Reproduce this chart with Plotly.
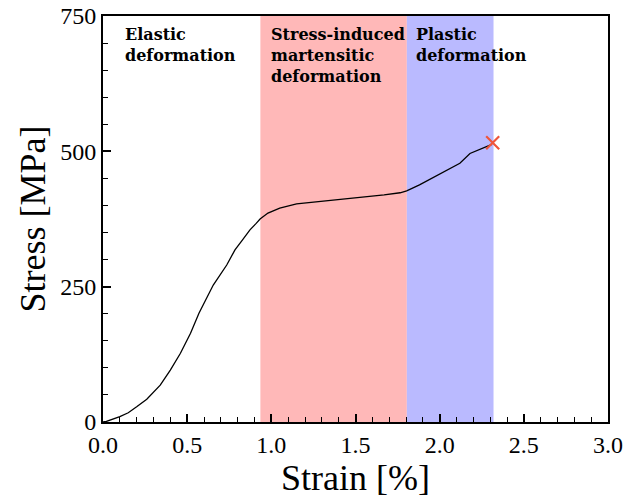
import plotly.graph_objects as go

strain = [0, 0.02, 0.1, 0.15, 0.2, 0.26, 0.34, 0.40, 0.46, 0.52, 0.57, 0.655, 0.735, 0.784, 0.83,
          0.873, 0.91, 0.933, 0.98, 1.05, 1.15, 1.25, 1.37, 1.47, 1.57, 1.67, 1.765, 1.804, 1.88,
          1.963, 2.04, 2.12, 2.18, 2.24, 2.28, 2.31]
stress = [0, 1, 10, 17, 28, 42, 68, 96, 127, 164, 201, 253, 290, 318, 337, 355, 367, 375, 386,
          395, 403, 406, 410, 413, 416, 419.5, 423.5, 427, 438, 452, 465, 478, 496, 504, 509, 513]

fracture_strain = [2.315]
fracture_stress = [516]

regions = [
    {"x0": 0.935, "x1": 1.805, "color": "rgb(255,184,184)"},
    {"x0": 1.805, "x1": 2.32, "color": "rgb(186,186,255)"},
]

labels = [
    {"x": 0.12, "text": "Elastic<br>deformation"},
    {"x": 0.985, "text": "Stress-induced<br>martensitic<br>deformation"},
    {"x": 1.847, "text": "Plastic<br>deformation"},
]

serif = "Liberation Serif, Times New Roman, serif"

fig = go.Figure()
fig.add_trace(go.Scatter(x=strain, y=stress, mode="lines",
                         line=dict(color="black", width=1.3), showlegend=False))
fig.add_trace(go.Scatter(x=fracture_strain, y=fracture_stress, mode="markers",
                         marker=dict(symbol="x-thin-open", size=13,
                                     line=dict(color="rgb(205,0,45)", width=2.2)),
                         showlegend=False))

for r in regions:
    fig.add_shape(type="rect", xref="x", yref="y", x0=r["x0"], x1=r["x1"], y0=0, y1=750,
                  fillcolor=r["color"], line=dict(width=0), layer="below")

for lab in labels:
    fig.add_annotation(x=lab["x"], y=737, xref="x", yref="y", text="<b>" + lab["text"] + "</b>",
                       showarrow=False, xanchor="left", yanchor="top", align="left",
                       font=dict(family="DejaVu Serif", size=16, color="black"))

fig.update_xaxes(range=[0, 3], tickmode="array", tickvals=[0, 0.5, 1, 1.5, 2, 2.5, 3],
                 ticktext=["0.0", "0.5", "1.0", "1.5", "2.0", "2.5", "3.0"],
                 ticks="inside", ticklen=8, tickwidth=1.5, tickcolor="black",
                 minor=dict(ticks="inside", ticklen=5, tickwidth=1.2, tickcolor="black", dtick=0.1),
                 showline=True, linecolor="black", linewidth=2, mirror=True,
                 showgrid=False, zeroline=False, automargin=False, ticklabeloverflow="allow",
                 tickfont=dict(family=serif, size=24, color="black"),
                 title=dict(text="Strain [%]", font=dict(family=serif, size=36, color="black"), standoff=2))
fig.update_yaxes(range=[0, 750], tickmode="array", tickvals=[0, 250, 500, 750],
                 ticks="inside", ticklen=8, tickwidth=1.5, tickcolor="black",
                 minor=dict(ticks="inside", ticklen=5, tickwidth=1.2, tickcolor="black", dtick=50),
                 showline=True, linecolor="black", linewidth=2, mirror=True,
                 showgrid=False, zeroline=False, automargin=False, ticklabeloverflow="allow",
                 tickfont=dict(family=serif, size=24, color="black"),
                 title=dict(text="Stress [MPa]", font=dict(family=serif, size=36, color="black"), standoff=4))

fig.update_layout(width=634, height=495, margin=dict(l=95, r=34, t=8, b=81),
                  plot_bgcolor="white", paper_bgcolor="white")

fig.write_html("out.html")
